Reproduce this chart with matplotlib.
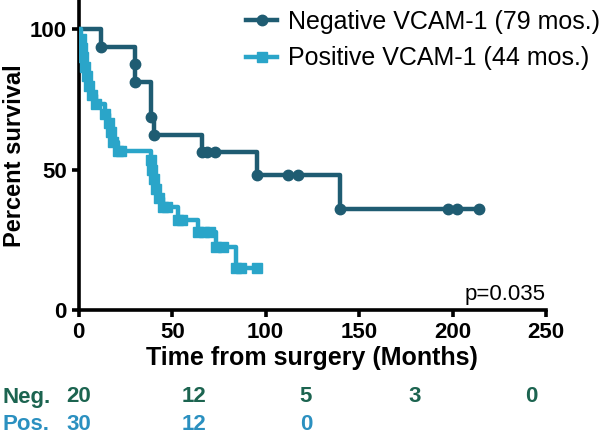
import numpy as np
import matplotlib
matplotlib.use('Agg')
import matplotlib.pyplot as plt
from matplotlib.lines import Line2D

plt.rcParams['font.family'] = ['Liberation Sans', 'DejaVu Sans']

# Kaplan-Meier curves (time in months, percent survival)
neg_t = [0, 12, 30, 30, 38.5, 40.5, 66, 68.5, 73, 95.5, 112, 117.5, 140, 197.5, 202.5, 214]
neg_s = [100, 93.75, 87.5, 81.25, 68.75, 62.5, 56.25, 56.25, 56.25, 48.2, 48.2, 48.2, 36.1, 36.1, 36.1, 36.1]

pos_t = [0, 1, 1.5, 2.5, 3.5, 4.5, 5.5, 7, 9, 14, 16, 17, 18.5, 21, 22.5,
         38.5, 39, 40, 41.5, 43, 45, 47, 53, 55, 64, 67, 70, 73.5, 77, 84, 87, 95.5]
pos_s = [100, 96.7, 93.3, 90.0, 86.7, 83.3, 80.0, 76.7, 73.3, 70.0, 66.7, 63.3, 60.0, 56.7, 56.7,
         53.3, 50.0, 46.7, 43.3, 40.0, 36.7, 36.7, 32.2, 32.2, 27.9, 27.9, 27.9, 22.5, 22.5, 14.9, 14.9, 14.9]

neg_label = 'Negative VCAM-1 (79 mos.)'
pos_label = 'Positive VCAM-1 (44 mos.)'
p_text = 'p=0.035'

risk_rows = ['Neg.', 'Pos.']
neg_risk = ['20', '12', '5', '3', '0']
pos_risk = ['30', '12', '0']

neg_col = '#1f5c72'
pos_col = '#2aa5c9'
neg_txt = '#1c6450'
pos_txt = '#2b90c0'

fig = plt.figure(figsize=(6.06, 4.38), dpi=100)
ax = fig.add_axes([0.130, 0.292, 0.771, 0.705])

ax.step(neg_t, neg_s, where='post', color=neg_col, lw=3.2, zorder=3)
ax.plot(neg_t[1:], neg_s[1:], 'o', color=neg_col, ms=7.5, zorder=4)
ax.step(pos_t, pos_s, where='post', color=pos_col, lw=3.2, zorder=3)
ax.plot(pos_t[1:], pos_s[1:], 's', color=pos_col, ms=7.5, zorder=4)

ax.set_xlim(0, 250)
ax.set_ylim(0, 110)
ax.set_xticks([0, 50, 100, 150, 200, 250])
ax.set_yticks([0, 50, 100])
for s in ['top', 'right']:
    ax.spines[s].set_visible(False)
for s in ['left', 'bottom']:
    ax.spines[s].set_linewidth(2.6)
ax.tick_params(width=2.6, length=5, labelsize=16, direction='out')
for lab in ax.get_xticklabels() + ax.get_yticklabels():
    lab.set_fontweight('bold')
ax.set_xlabel('Time from surgery (Months)', fontsize=18, fontweight='bold', labelpad=2)
ax.set_ylabel('Percent survival', fontsize=17, fontweight='bold', labelpad=3)
ax.text(1.0, 0.033, p_text, transform=ax.transAxes, ha='right', va='baseline', fontsize=16)

handles = [Line2D([], [], color=neg_col, lw=3.2, marker='o', ms=7.5),
           Line2D([], [], color=pos_col, lw=3.2, marker='s', ms=7.5)]
fig.legend(handles, [neg_label, pos_label], loc='upper left', bbox_to_anchor=(246 / 606, 1 - 10 / 438),
           frameon=False, fontsize=18, handlelength=1.25, handletextpad=0.45, labelspacing=0.5,
           borderpad=0, borderaxespad=0)

# number at risk table
xs = [79, 194, 306, 415, 531]
fig.text(2 / 606, 1 - 397 / 438, risk_rows[0], color=neg_txt, fontsize=16, fontweight='bold', va='center')
fig.text(2 / 606, 1 - 425 / 438, risk_rows[1], color=pos_txt, fontsize=16, fontweight='bold', va='center')
for x, v in zip(xs, neg_risk):
    fig.text(x / 606, 1 - 397 / 438, v, color=neg_txt, fontsize=16, fontweight='bold', ha='center', va='center')
for x, v in zip(xs, pos_risk):
    fig.text(x / 606, 1 - 425 / 438, v, color=pos_txt, fontsize=16, fontweight='bold', ha='center', va='center')

fig.savefig('out.png', dpi=100)
